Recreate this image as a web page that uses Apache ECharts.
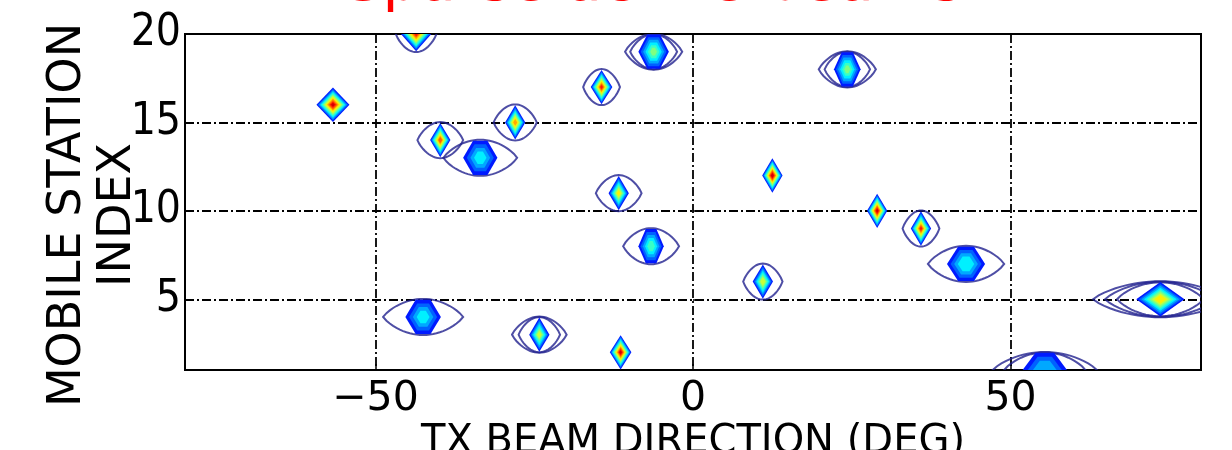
<!DOCTYPE html>
<html><head><meta charset="utf-8">
<script src="https://cdn.jsdelivr.net/npm/echarts@6/dist/echarts.min.js"></script>
<style>html,body{margin:0;padding:0;background:#fff}#c{width:1232px;height:450px}</style>
</head><body><div id="c"></div>
<script>
// ---- text ----
const titleText = 'Sparse active beams';
const xName = 'TX BEAM DIRECTION (DEG)';
const yName = 'MOBILE STATION\nINDEX';
const xTicks = [-50, 0, 50];
const yTicks = [5, 10, 15, 20];

// ---- beams ----
const beamIndex = [16, 20, 19, 18, 17, 15, 14, 13, 12, 11, 10, 9, 8, 7, 6, 5, 4, 3, 2, 1];
const beamDeg   = [-56.7, -43.6, -6.2, 24.3, -14.4, -28.0, -39.8, -33.5, 12.5, -11.7, 29.0, 35.9, -6.6, 43.0, 11.0, 73.6, -42.5, -24.2, -11.4, 55.4];
const beamCoreW = [2.6, 2.4, 2.4, 2.1, 1.7, 1.6, 1.6, 2.7, 1.6, 1.6, 1.6, 1.6, 2.0, 3.0, 1.6, 3.8, 2.8, 1.6, 1.7, 3.5];
const beamOuterW= [0, 3.2, 4.5, 4.5, 2.9, 3.4, 3.6, 5.8, 0, 3.6, 0, 2.9, 4.4, 6.0, 3.1, 10.6, 6.3, 4.3, 0, 8.2];
const beamRings = [0, 1, 2, 2, 1, 1, 1, 1, 0, 1, 0, 1, 1, 1, 1, 3, 1, 2, 0, 2];
const beamPeak  = [0.92, 0.85, 0.5, 0.5, 0.85, 0.75, 0.82, 0.38, 0.95, 0.65, 0.92, 0.85, 0.45, 0.42, 0.62, 0.7, 0.38, 0.6, 0.92, 0.35];

function jet(v) {
  const c = x => Math.max(0, Math.min(1, x));
  const r = c(1.5 - Math.abs(4 * v - 3)), g = c(1.5 - Math.abs(4 * v - 2)), b = c(1.5 - Math.abs(4 * v - 1));
  return 'rgb(' + Math.round(r * 255) + ',' + Math.round(g * 255) + ',' + Math.round(b * 255) + ')';
}

function lensPoints(cx, cy, W, H) {
  const pts = [], N = 24;
  for (let i = 0; i <= N; i++) {
    const x = -W + 2 * W * i / N;
    const y = H * Math.pow(Math.max(0, 1 - (x / W) * (x / W)), 0.85);
    pts.push([cx + x, cy - y]);
  }
  for (let i = N - 1; i > 0; i--) {
    const x = -W + 2 * W * i / N;
    const y = H * Math.pow(Math.max(0, 1 - (x / W) * (x / W)), 0.85);
    pts.push([cx + x, cy + y]);
  }
  return pts;
}

function renderBeam(params, api) {
  const deg = api.value(0), idx = api.value(1), coreW = api.value(2),
        outerW = api.value(3), rings = api.value(4), peak = api.value(5);
  const c = api.coord([deg, idx]);
  const unit = api.size([1, 1]);
  const pxX = unit[0], pxY = unit[1];
  const children = [];
  for (let k = 0; k < rings; k++) {
    const w = outerW - (outerW - coreW) * (k / (rings + 0.6));
    children.push({
      type: 'polygon',
      shape: { points: lensPoints(c[0], c[1], w * pxX, pxY * (1.02 - 0.03 * k)) },
      style: { fill: 'none', stroke: '#22228f', lineWidth: 2, opacity: 0.8 }
    });
  }
  const Wc = coreW * pxX, Hc = 0.97 * pxY;
  const f = peak < 0.55 ? 0.42 : 0;
  const levels = [];
  for (let L = 0.15; L <= peak + 1e-6; L += 0.07) levels.push(L);
  levels.forEach(L => {
    const s = 1 - (L - 0.15) / (peak - 0.15 + 0.1);
    const w = Wc * s, h = Hc * s;
    const pts = f > 0
      ? [[c[0] - w, c[1]], [c[0] - f * w, c[1] - h], [c[0] + f * w, c[1] - h], [c[0] + w, c[1]], [c[0] + f * w, c[1] + h], [c[0] - f * w, c[1] + h]]
      : [[c[0] - w, c[1]], [c[0], c[1] - h], [c[0] + w, c[1]], [c[0], c[1] + h]];
    children.push({ type: 'polygon', shape: { points: pts }, style: { fill: jet(L) } });
  });
  return { type: 'group', children: children };
}

const beamData = beamDeg.map((d, i) => [d, beamIndex[i], beamCoreW[i], beamOuterW[i], beamRings[i], beamPeak[i]]);

const chart = echarts.init(document.getElementById('c'), null, { renderer: 'canvas' });
const gridLine = { color: '#000', width: 1.8, type: [9, 3, 2, 3] };
const narrow = "'Liberation Sans Narrow', 'DejaVu Sans Condensed', 'DejaVu Sans'";
chart.setOption({
  animation: false,
  backgroundColor: '#fff',
  title: {
    text: titleText, left: 340, top: -50,
    textStyle: { color: '#ff0000', fontSize: 59, fontFamily: 'DejaVu Sans', fontWeight: 'normal' }
  },
  grid: { left: 185, right: 31, top: 34, bottom: 80, outerBoundsMode: 'none', containLabel: false,
    show: true, borderColor: '#000', borderWidth: 2, backgroundColor: 'transparent' },
  xAxis: {
    type: 'value', min: -80, max: 80,
    name: xName, nameLocation: 'middle', nameGap: 53, nameMoveOverlap: false,
    nameTextStyle: { fontSize: 40, fontFamily: 'DejaVu Sans', color: '#000', lineHeight: 40 },
    axisLine: { show: false },
    axisTick: { show: true, inside: true, length: 6, customValues: xTicks, lineStyle: { color: '#000', width: 1.5 } },
    axisLabel: { customValues: xTicks, fontSize: 41, fontFamily: 'DejaVu Sans', color: '#000', margin: 9,
      formatter: v => v < 0 ? '\u2212' + Math.abs(v) : String(v) },
    splitLine: { show: true, lineStyle: gridLine }
  },
  yAxis: {
    type: 'value', min: 1, max: 20,
    name: yName, nameLocation: 'middle', nameRotate: 90, nameGap: 42, nameMoveOverlap: false,
    nameTextStyle: { fontSize: 46, fontFamily: 'DejaVu Sans', color: '#000', lineHeight: 50, padding: [0, 26, 0, 0] },
    axisLine: { show: false },
    axisTick: { show: true, inside: true, length: 6, customValues: yTicks, lineStyle: { color: '#000', width: 1.5 } },
    axisLabel: { customValues: yTicks, fontSize: 44, fontFamily: narrow, color: '#000', margin: 4 },
    splitLine: { show: true, lineStyle: gridLine }
  },
  series: [{
    type: 'custom', renderItem: renderBeam, data: beamData, clip: true, silent: true,
    encode: { x: 0, y: 1 }, z: 3
  }]
});
</script></body></html>
